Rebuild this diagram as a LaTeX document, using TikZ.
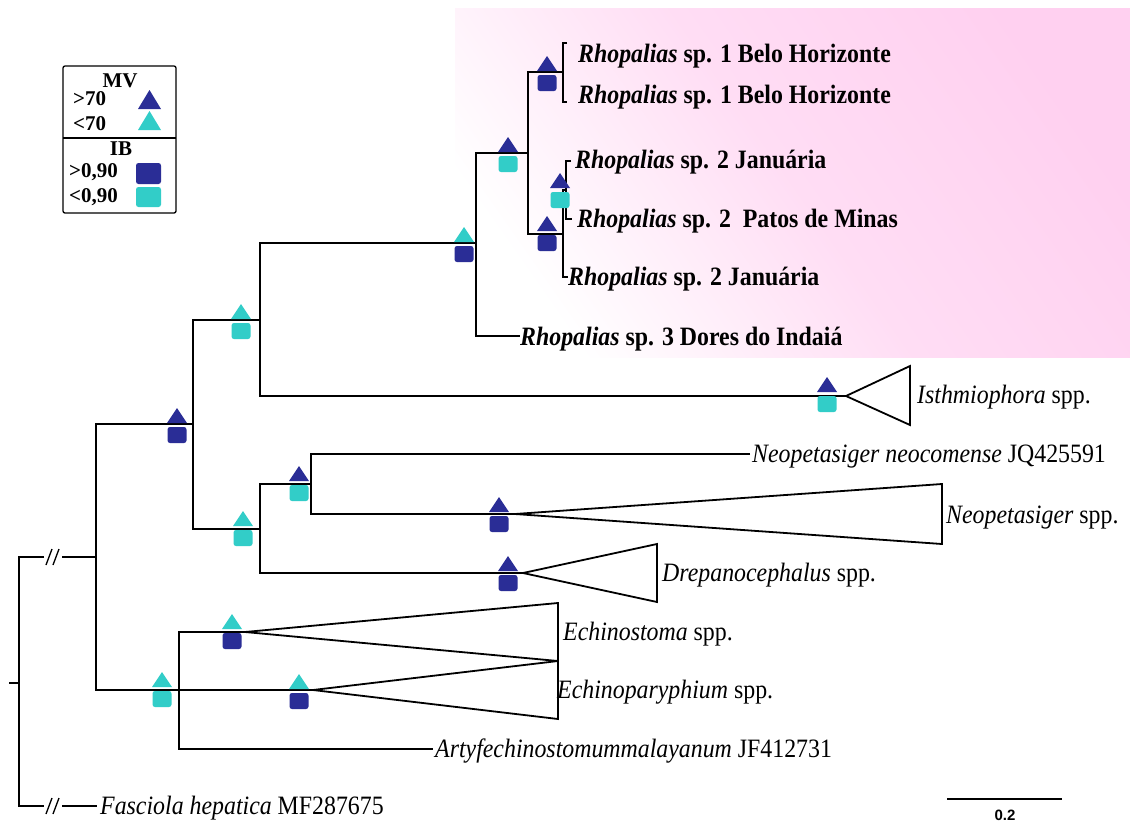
\documentclass[tikz,border=0pt]{standalone}
\usepackage{fontspec}
\setmainfont{Liberation Serif}[FakeStretch=0.9]
\newfontfamily\legfont{Liberation Serif}
\newfontfamily\sbarfont{Liberation Sans}
\definecolor{navyc}{RGB}{42,45,150}
\definecolor{tealc}{RGB}{50,205,200}
\definecolor{pinkc}{RGB}{255,208,240}
\newcommand{\mkr}[4]{%
  \fill[#3] (#1-10,#2-1) -- (#1+10,#2-1) -- (#1,#2-16) -- cycle;
  \fill[#4, rounded corners=2.5pt] (#1-9.5,#2+3) rectangle (#1+9.5,#2+19);}
\begin{document}
\begin{tikzpicture}[x=1pt,y=-1pt,
  branch/.style={draw=black, line width=1.8pt},
  clade/.style={draw=black, line width=1.8pt, line join=miter},
  lab/.style={anchor=base west, inner sep=0pt, font=\fontsize{26.5}{30}\selectfont},
  rlab/.style={anchor=base west, inner sep=0pt, font=\fontsize{26.5}{30}\selectfont\bfseries},
  legtxt/.style={anchor=base west, inner sep=0pt, font=\legfont\bfseries\fontsize{21}{24}\selectfont},
  legbox/.style={draw=black, line width=1.3pt, rounded corners=2pt},
  brk/.style={draw=black, line width=1.3pt}]
\useasboundingbox (0,0) rectangle (1130,823);
\fill[white] (0,0) rectangle (1130,823);
% pink highlight
\begin{scope}
\clip (455,8) rectangle (1130,357);
\shade[shading=axis, bottom color=white, top color=pinkc, middle color=pinkc!72, shading angle=-55] (455,8) rectangle (1130,357);
\end{scope}
% coordinates of the tree
\coordinate (rootT) at (9,683);
\coordinate (root) at (19,683);
\coordinate (bkA1) at (44,557); \coordinate (bkA2) at (62,557);
\coordinate (bkF1) at (44,806); \coordinate (bkF2) at (62,806);
\coordinate (tF) at (97,806);
\coordinate (nA) at (96,557);
\coordinate (nB) at (193,424);
\coordinate (nF) at (179,690);
\coordinate (nC) at (260,320);
\coordinate (nD) at (260,529);
\coordinate (nR) at (476,243);
\coordinate (isA) at (846,396);
\coordinate (nS) at (528,153);
\coordinate (t7) at (520,336);
\coordinate (nT) at (563,72);
\coordinate (nU) at (563,234);
\coordinate (t1) at (567,43); \coordinate (t2) at (567,102);
\coordinate (nV) at (566,190);
\coordinate (t6) at (568,277);
\coordinate (t3) at (571,161); \coordinate (t4) at (572,219);
\coordinate (nE) at (311,484);
\coordinate (drA) at (523,573);
\coordinate (t8) at (750,454);
\coordinate (neA) at (515,514);
\coordinate (esA) at (245,632);
\coordinate (epA) at (313,690);
\coordinate (t9) at (433,749);
% branches
\draw[branch] (rootT) -- (root);
\draw[branch] (bkA1) -| (root) |- (bkF1);
\draw[branch] (bkA2) -- (nA);
\draw[branch] (bkF2) -- (tF);
\draw[brk] (46,565) -- (52,549) (53,565) -- (59,549);
\draw[brk] (46,814) -- (52,798) (53,814) -- (59,798);
\draw[branch] (nB) -| (nA) |- (nF);
\draw[branch] (nC) -| (nB) |- (nD);
\draw[branch] (nR) -| (nC) |- (isA);
\draw[branch] (nS) -| (nR) |- (t7);
\draw[branch] (nT) -| (nS) |- (nU);
\draw[branch] (t1) -| (nT) |- (t2);
\draw[branch] (nV) -| (nU) |- (t6);
\draw[branch] (t3) -| (nV) |- (t4);
\draw[branch] (nE) -| (nD) |- (drA);
\draw[branch] (t8) -| (nE) |- (neA);
\draw[branch] (esA) -| (nF) |- (t9);
\draw[branch] (nF) -- (epA);
% collapsed clades
\draw[clade] (isA) -- (910,366) -- (910,425) -- cycle;
\draw[clade] (neA) -- (942,484) -- (942,544) -- cycle;
\draw[clade] (drA) -- (657,544) -- (657,602) -- cycle;
\draw[clade] (esA) -- (558,603) -- (558,661) -- cycle;
\draw[clade] (epA) -- (558,661) -- (558,719) -- cycle;
% support markers
\mkr{177}{424}{navyc}{navyc}
\mkr{241}{320}{tealc}{tealc}
\mkr{464}{243}{tealc}{navyc}
\mkr{508}{153}{navyc}{tealc}
\mkr{547}{72}{navyc}{navyc}
\mkr{560}{189}{navyc}{tealc}
\mkr{547}{232}{navyc}{navyc}
\mkr{827}{393}{navyc}{tealc}
\mkr{243}{527}{tealc}{tealc}
\mkr{299}{482}{navyc}{tealc}
\mkr{499}{513}{navyc}{navyc}
\mkr{508}{572}{navyc}{navyc}
\mkr{232}{630}{tealc}{navyc}
\mkr{299}{690}{tealc}{navyc}
\mkr{162}{688}{tealc}{tealc}
% labels
\node[rlab] (L1) at (578,62) {\textit{Rhopalias} sp. 1 Belo Horizonte};
\node[rlab] (L2) at (578,103) {\textit{Rhopalias} sp. 1 Belo Horizonte};
\node[rlab] (L3) at (575,168) {\textit{Rhopalias} sp. 2 Januária};
\node[rlab] (L4) at (577,227) {\textit{Rhopalias} sp. 2\ \ Patos de Minas};
\node[rlab] (L5) at (568,285) {\textit{Rhopalias} sp. 2 Januária};
\node[rlab] (L6) at (520,345) {\textit{Rhopalias} sp. 3 Dores do Indaiá};
\node[lab] (L7) at (917,403) {\textit{Isthmiophora} spp.};
\node[lab] (L8) at (752,462) {\textit{Neopetasiger neocomense} JQ425591};
\node[lab] (L9) at (946,523) {\textit{Neopetasiger} spp.};
\node[lab] (L10) at (662,581) {\textit{Drepanocephalus} spp.};
\node[lab] (L11) at (563,640) {\textit{Echinostoma} spp.};
\node[lab] (L12) at (557,698) {\textit{Echinoparyphium} spp.};
\node[lab] (L13) at (435,757) {\textit{Artyfechinostomummalayanum} JF412731};
\node[lab] (L14) at (100,814) {\textit{Fasciola hepatica} MF287675};
% legend
\draw[legbox] (63,66) rectangle (176,213);
\draw[legbox, rounded corners=0pt] (63,138) -- (176,138);
\node[legtxt, anchor=base] (lMV) at (120,87) {MV};
\node[legtxt] (lg70) at (73,105) {>70};
\node[legtxt] (ll70) at (73,130) {<70};
\node[legtxt, anchor=base] (lIB) at (121,155) {IB};
\node[legtxt] (lg90) at (69,177) {>0,90};
\node[legtxt] (ll90) at (69,202) {<0,90};
\fill[navyc] (138,109) -- (161,109) -- (149.5,90) -- cycle;
\fill[tealc] (138,130) -- (161,130) -- (149.5,111) -- cycle;
\fill[navyc, rounded corners=2.5pt] (136,163) rectangle (161,184);
\fill[tealc, rounded corners=2.5pt] (136,187) rectangle (161,207);
% scale bar
\coordinate (sb1) at (947,799);
\coordinate (sb2) at (1062,799);
\draw[branch] (sb1) -- (sb2);
\node[inner sep=0pt, font=\sbarfont\bfseries\fontsize{15}{17}\selectfont] (sbl) at (1005,815) {0.2};
\end{tikzpicture}
\end{document}
